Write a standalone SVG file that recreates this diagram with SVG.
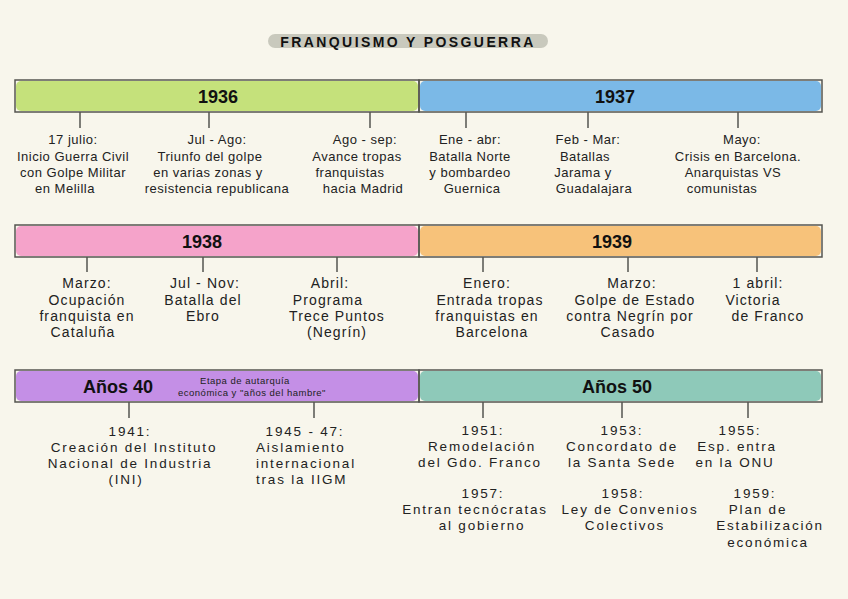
<svg xmlns="http://www.w3.org/2000/svg" width="848" height="599" viewBox="0 0 848 599">
<style>
.bg{fill:#f8f6ec}
.frame{fill:none;stroke:#555550;stroke-width:1.5}
.yr{font-family:"Liberation Sans",Arial,sans-serif;font-weight:bold;font-size:18px;fill:#111;text-anchor:middle}
.t{font-family:"Liberation Sans",Arial,sans-serif;font-size:13px;letter-spacing:0.5px;fill:#222;text-anchor:middle}
.t2{font-family:"Liberation Sans",Arial,sans-serif;font-size:14px;letter-spacing:1.1px;fill:#222;text-anchor:middle}
.t3{font-family:"Liberation Sans",Arial,sans-serif;font-size:13.5px;letter-spacing:1.8px;fill:#222;text-anchor:middle}
.st{text-anchor:start}
.s{font-family:"Liberation Sans",Arial,sans-serif;font-size:9.5px;letter-spacing:0.5px;fill:#222;text-anchor:middle}
.tick{stroke:#555550;stroke-width:1.5}
</style>
<rect class="bg" x="0" y="0" width="848" height="599"/>
<g id="title">
<rect x="268" y="34" width="280" height="14" rx="7" fill="#c9c9bd"/>
<text x="408" y="47" font-family="Liberation Sans,Arial,sans-serif" font-weight="bold" font-size="14" letter-spacing="2.4" fill="#111" text-anchor="middle">FRANQUISMO Y POSGUERRA</text>
</g>
<g id="connectors">
<line class="tick" x1="80" y1="112" x2="80" y2="128"/>
<line class="tick" x1="209" y1="112" x2="209" y2="128"/>
<line class="tick" x1="370" y1="112" x2="370" y2="128"/>
<line class="tick" x1="466" y1="112" x2="466" y2="128"/>
<line class="tick" x1="588" y1="112" x2="588" y2="128"/>
<line class="tick" x1="738" y1="112" x2="738" y2="128"/>
<line class="tick" x1="87" y1="257" x2="87" y2="272"/>
<line class="tick" x1="203" y1="257" x2="203" y2="272"/>
<line class="tick" x1="337" y1="257" x2="337" y2="272"/>
<line class="tick" x1="483" y1="257" x2="483" y2="272"/>
<line class="tick" x1="628" y1="257" x2="628" y2="272"/>
<line class="tick" x1="757" y1="257" x2="757" y2="272"/>
<line class="tick" x1="129" y1="402" x2="129" y2="418"/>
<line class="tick" x1="314" y1="402" x2="314" y2="418"/>
<line class="tick" x1="483" y1="402" x2="483" y2="418"/>
<line class="tick" x1="622" y1="402" x2="622" y2="418"/>
<line class="tick" x1="748" y1="402" x2="748" y2="418"/>
</g>
<g id="bar-1936">
<rect x="16" y="81" width="402" height="30" rx="5" fill="#c5e17b"/>
<rect class="frame" x="15" y="80" width="404" height="32"/>
<text class="yr" x="218" y="103">1936</text>
</g>
<g id="bar-1937">
<rect x="420" y="81" width="401" height="30" rx="5" fill="#7bb9e7"/>
<rect class="frame" x="419" y="80" width="403" height="32"/>
<text class="yr" x="615" y="103">1937</text>
</g>
<g id="bar-1938">
<rect x="16" y="226" width="402" height="30" rx="5" fill="#f5a3ca"/>
<rect class="frame" x="15" y="225" width="404" height="32"/>
<text class="yr" x="202" y="248">1938</text>
</g>
<g id="bar-1939">
<rect x="420" y="226" width="401" height="30" rx="5" fill="#f7c27a"/>
<rect class="frame" x="419" y="225" width="403" height="32"/>
<text class="yr" x="612" y="248">1939</text>
</g>
<g id="bar-40">
<rect x="16" y="371" width="402" height="30" rx="5" fill="#c48fe6"/>
<rect class="frame" x="15" y="370" width="404" height="32"/>
<text class="yr" x="118" y="393" font-size="16">Años 40</text>
<text class="s" x="245" y="384">Etapa de autarquía</text>
<text class="s" x="252" y="396">económica y "años del hambre"</text>
</g>
<g id="bar-50">
<rect x="420" y="371" width="401" height="30" rx="5" fill="#8ec9b9"/>
<rect class="frame" x="419" y="370" width="403" height="32"/>
<text class="yr" x="617" y="393" font-size="16">Años 50</text>
</g>
<g id="ev-1936-a">
<text class="t" x="73" y="144">17 julio:</text>
<text class="t" x="73" y="161">Inicio Guerra Civil</text>
<text class="t" x="73" y="177">con Golpe Militar</text>
<text class="t" x="65" y="193">en Melilla</text>
</g>
<g id="ev-1936-b">
<text class="t" x="217" y="144">Jul - Ago:</text>
<text class="t" x="210" y="161">Triunfo del golpe</text>
<text class="t" x="208" y="177">en varias zonas y</text>
<text class="t" x="217" y="193">resistencia republicana</text>
</g>
<g id="ev-1936-c">
<text class="t" x="365" y="144">Ago - sep:</text>
<text class="t" x="357" y="161">Avance tropas</text>
<text class="t" x="350" y="177">franquistas</text>
<text class="t" x="363" y="193">hacia Madrid</text>
</g>
<g id="ev-1937-a">
<text class="t" x="470" y="144">Ene - abr:</text>
<text class="t" x="470" y="161">Batalla Norte</text>
<text class="t" x="470" y="177">y bombardeo</text>
<text class="t" x="472" y="193">Guernica</text>
</g>
<g id="ev-1937-b">
<text class="t" x="588" y="144">Feb - Mar:</text>
<text class="t" x="585" y="161">Batallas</text>
<text class="t" x="583" y="177">Jarama y</text>
<text class="t" x="594" y="193">Guadalajara</text>
</g>
<g id="ev-1937-c">
<text class="t" x="742" y="144">Mayo:</text>
<text class="t" x="738" y="161">Crisis en Barcelona.</text>
<text class="t" x="733" y="177">Anarquistas VS</text>
<text class="t" x="722" y="193">comunistas</text>
</g>
<g id="ev-1938-a">
<text class="t2" x="87" y="288">Marzo:</text>
<text class="t2" x="87" y="305">Ocupación</text>
<text class="t2" x="87" y="321">franquista en</text>
<text class="t2" x="83" y="337">Cataluña</text>
</g>
<g id="ev-1938-b">
<text class="t2" x="205" y="288">Jul - Nov:</text>
<text class="t2" x="203" y="305">Batalla del</text>
<text class="t2" x="203" y="321">Ebro</text>
</g>
<g id="ev-1938-c">
<text class="t2" x="330" y="288">Abril:</text>
<text class="t2" x="328" y="305">Programa</text>
<text class="t2" x="337" y="321">Trece Puntos</text>
<text class="t2" x="337" y="337">(Negrín)</text>
</g>
<g id="ev-1939-a">
<text class="t2" x="487" y="288">Enero:</text>
<text class="t2" x="490" y="305">Entrada tropas</text>
<text class="t2" x="487" y="321">franquistas en</text>
<text class="t2" x="492" y="337">Barcelona</text>
</g>
<g id="ev-1939-b">
<text class="t2" x="632" y="288">Marzo:</text>
<text class="t2" x="635" y="305">Golpe de Estado</text>
<text class="t2" x="630" y="321">contra Negrín por</text>
<text class="t2" x="628" y="337">Casado</text>
</g>
<g id="ev-1939-c">
<text class="t2" x="758" y="288">1 abril:</text>
<text class="t2" x="753" y="305">Victoria</text>
<text class="t2" x="768" y="321">de Franco</text>
</g>
<g id="ev-1941">
<text class="t3" x="130" y="436">1941:</text>
<text class="t3" x="134" y="452">Creación del Instituto</text>
<text class="t3" x="130" y="468">Nacional de Industria</text>
<text class="t3" x="126" y="484">(INI)</text>
</g>
<g id="ev-1945">
<text class="t3" x="305" y="436">1945 - 47:</text>
<text class="t3 st" x="256" y="452">Aislamiento</text>
<text class="t3 st" x="256" y="468">internacional</text>
<text class="t3 st" x="256" y="484">tras la IIGM</text>
</g>
<g id="ev-1951">
<text class="t3" x="483" y="435">1951:</text>
<text class="t3" x="482" y="451">Remodelación</text>
<text class="t3" x="480" y="467">del Gdo. Franco</text>
</g>
<g id="ev-1957">
<text class="t3" x="483" y="498">1957:</text>
<text class="t3" x="475" y="514">Entran tecnócratas</text>
<text class="t3" x="482" y="530">al gobierno</text>
</g>
<g id="ev-1953">
<text class="t3" x="622" y="435">1953:</text>
<text class="t3" x="622" y="451">Concordato de</text>
<text class="t3" x="622" y="467">la Santa Sede</text>
</g>
<g id="ev-1958">
<text class="t3" x="623" y="498">1958:</text>
<text class="t3" x="630" y="514">Ley de Convenios</text>
<text class="t3" x="625" y="530">Colectivos</text>
</g>
<g id="ev-1955">
<text class="t3" x="740" y="435">1955:</text>
<text class="t3" x="737" y="451">Esp. entra</text>
<text class="t3" x="735" y="467">en la ONU</text>
</g>
<g id="ev-1959">
<text class="t3" x="755" y="498">1959:</text>
<text class="t3" x="758" y="514">Plan de</text>
<text class="t3" x="770" y="530">Estabilización</text>
<text class="t3" x="768" y="547">económica</text>
</g>
</svg>
